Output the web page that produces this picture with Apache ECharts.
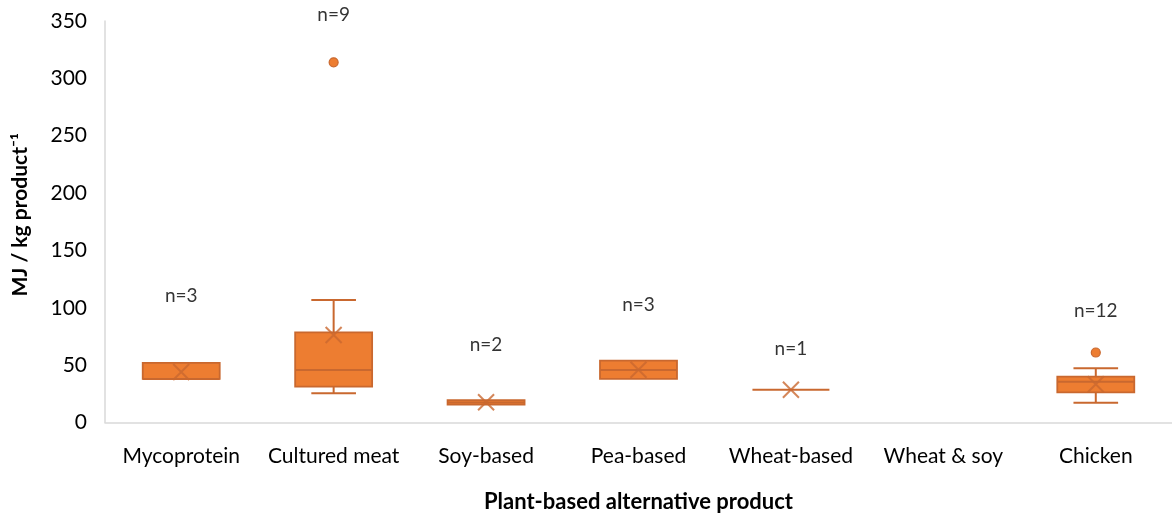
<!DOCTYPE html>
<html>
<head>
<meta charset="utf-8">
<script src="https://cdn.jsdelivr.net/npm/echarts@6/dist/echarts.min.js"></script>
<style>html,body{margin:0;padding:0;background:#fff;}#c{width:1172px;height:518px;}</style>
</head>
<body>
<div id="c"></div>
<script>
const categories = ['Mycoprotein', 'Cultured meat', 'Soy-based', 'Pea-based', 'Wheat-based', 'Wheat & soy', 'Chicken'];
const boxMin    = [38, 25.5, 15.5, 38, 28.6, null, 17.3];
const boxQ1     = [38, 31.2, 15.5, 38, 28.6, null, 26.3];
const boxMedian = [38, 45.8, 17.5, 45.8, 28.6, null, 35.6];
const boxQ3     = [52, 78.6, 19.5, 54, 28.6, null, 40];
const boxMax    = [52, 106.8, 19.5, 54, 28.6, null, 47.2];
const means     = [44, 76.3, 17.6, 46, 28.6, null, 33.3];
const outlierCat = [1, 6];
const outlierVal = [314, 61];
const nLabels = ['n=3', 'n=9', 'n=2', 'n=3', 'n=1', '', 'n=12'];
const nLabelY = [110, 355, 67.5, 102.5, 64.5, null, 97.5];
const yTicks = [0, 50, 100, 150, 200, 250, 300, 350];

const FILL = '#ED7D31', EDGE = '#C9682F';
const FONT = 'Lato, "Open Sans", sans-serif';

const boxData = [];
categories.forEach((c, i) => {
  if (boxQ1[i] != null) boxData.push([i, boxMin[i], boxQ1[i], boxMedian[i], boxQ3[i], boxMax[i]]);
});
const meanData = [];
categories.forEach((c, i) => { if (means[i] != null) meanData.push([i, means[i]]); });
const outData = outlierCat.map((c, i) => [c, outlierVal[i]]);
const nData = [];
categories.forEach((c, i) => { if (nLabelY[i] != null) nData.push({ value: [i, nLabelY[i]], label: nLabels[i] }); });

const chart = echarts.init(document.getElementById('c'), null, { renderer: 'canvas' });
chart.setOption({
  animation: false,
  backgroundColor: '#fff',
  grid: { left: 105, right: -4, top: 21, bottom: 95.5, containLabel: false },
  xAxis: {
    type: 'category',
    data: categories,
    axisLine: { lineStyle: { color: '#d9d9d9', width: 1.5 } },
    axisTick: { show: false },
    axisLabel: { color: '#000', fontSize: 21, fontFamily: FONT, margin: 23, interval: 0 },
    name: 'Plant-based alternative product',
    nameLocation: 'middle',
    nameGap: 68,
    nameTextStyle: { color: '#000', fontSize: 22, fontWeight: 'bold', fontFamily: FONT }
  },
  yAxis: {
    type: 'value',
    min: 0, max: 350, interval: 50,
    axisLine: { show: true, lineStyle: { color: '#d9d9d9', width: 1.5 } },
    axisTick: { show: false },
    splitLine: { show: false },
    axisLabel: { color: '#000', fontSize: 21, fontFamily: FONT, margin: 18,
      formatter: v => yTicks.indexOf(v) >= 0 ? String(v) : '' },
    name: 'MJ / kg product\u207B\u00B9',
    nameLocation: 'middle',
    nameGap: 74,
    nameTextStyle: { color: '#000', fontSize: 21, fontWeight: 'bold', fontFamily: FONT, padding: [0, 0, 0, 14] }
  },
  series: [
    {
      type: 'custom',
      data: boxData,
      encode: { x: 0, y: [1, 2, 3, 4, 5] },
      renderItem: function (params, api) {
        const x = api.value(0);
        const lo = api.value(1), q1 = api.value(2), med = api.value(3), q3 = api.value(4), hi = api.value(5);
        const bw = api.size([1, 0])[0] * 0.505;
        const cap = bw * 0.29;
        const pLo = api.coord([x, lo]), pQ1 = api.coord([x, q1]), pMed = api.coord([x, med]);
        const pQ3 = api.coord([x, q3]), pHi = api.coord([x, hi]);
        const cx = pQ1[0];
        const children = [];
        const ls = { stroke: EDGE, lineWidth: 2 };
        if (hi > q3) {
          children.push({ type: 'line', shape: { x1: cx, y1: pQ3[1], x2: cx, y2: pHi[1] }, style: ls });
          children.push({ type: 'line', shape: { x1: cx - cap, y1: pHi[1], x2: cx + cap, y2: pHi[1] }, style: ls });
        }
        if (lo < q1) {
          children.push({ type: 'line', shape: { x1: cx, y1: pQ1[1], x2: cx, y2: pLo[1] }, style: ls });
          children.push({ type: 'line', shape: { x1: cx - cap, y1: pLo[1], x2: cx + cap, y2: pLo[1] }, style: ls });
        }
        if (q3 > q1) {
          children.push({ type: 'rect', shape: { x: cx - bw / 2, y: pQ3[1], width: bw, height: pQ1[1] - pQ3[1] },
            style: { fill: FILL, stroke: EDGE, lineWidth: 1.8 } });
          children.push({ type: 'line', shape: { x1: cx - bw / 2, y1: pMed[1], x2: cx + bw / 2, y2: pMed[1] }, style: ls });
        } else {
          children.push({ type: 'line', shape: { x1: cx - bw / 2, y1: pMed[1], x2: cx + bw / 2, y2: pMed[1] }, style: ls });
        }
        return { type: 'group', children: children };
      },
      z: 2
    },
    {
      type: 'scatter',
      data: meanData,
      symbol: 'path://M0,0L10,10M10,0L0,10',
      symbolSize: 16,
      itemStyle: { color: 'rgba(0,0,0,0)', borderColor: EDGE, borderWidth: 2 },
      z: 3
    },
    {
      type: 'scatter',
      data: outData,
      symbol: 'circle',
      symbolSize: 9,
      itemStyle: { color: FILL, borderColor: EDGE, borderWidth: 1.2, opacity: 1 },
      z: 3
    },
    {
      type: 'scatter',
      data: nData,
      symbolSize: 0,
      clip: false,
      silent: true,
      label: { show: true, position: 'inside', formatter: p => p.data.label,
        color: '#000', fontSize: 19, fontFamily: FONT },
      z: 4
    }
  ]
});
</script>
</body>
</html>
